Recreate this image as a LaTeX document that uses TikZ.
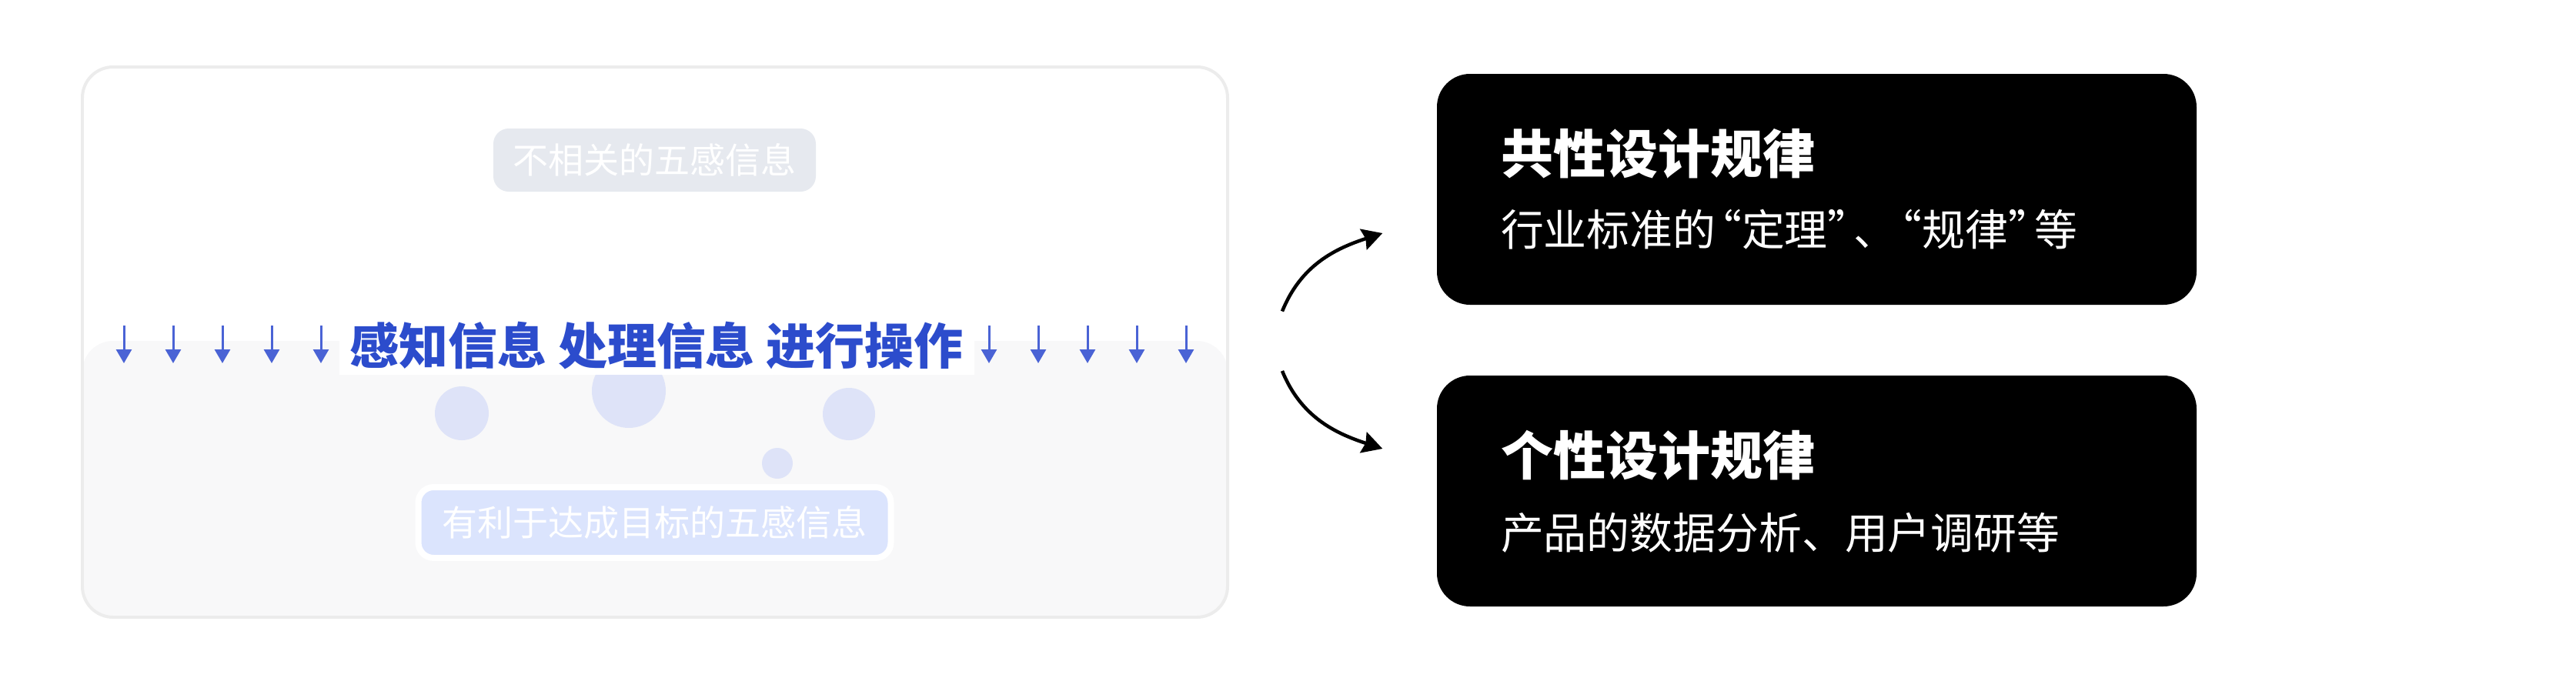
\documentclass[tikz,border=0pt]{standalone}
\usepackage{fontspec}
\usepackage{tikz}
\usetikzlibrary{arrows.meta, positioning}
\newfontfamily\cjk{Noto Sans CJK SC}
\definecolor{panelline}{HTML}{ECECEC}
\definecolor{panelgray}{HTML}{F8F8F9}
\definecolor{chipgray}{HTML}{E6E9EF}
\definecolor{chipblue}{HTML}{DBE4FD}
\definecolor{bubble}{HTML}{DEE3F8}
\definecolor{textblue}{HTML}{2C4CCC}
\definecolor{arrowblue}{HTML}{4A63D5}
% narrow curly quotes
\newcommand{\openq}{\makebox[0.6em][r]{“}}
\newcommand{\closeq}{\makebox[0.6em][l]{”}}
\tikzset{
	panel/.style={rectangle, draw=panelline, line width=0.04cm, fill=white, rounded corners=0.4cm, minimum width=14.88cm, minimum height=7.15cm, inner sep=0pt},
	chip/.style={rectangle, rounded corners=0.2cm, text=white, inner sep=0pt, font=\cjk\fontsize{13.1pt}{15pt}\selectfont},
	bubble/.style={circle, fill=bubble, inner sep=0pt},
	mainline/.style={rectangle, fill=white, text=textblue, inner sep=0pt, minimum height=0.76cm, font=\cjk\bfseries\fontsize{18.2pt}{20pt}\selectfont},
	fall/.style={-{Triangle[length=0.18cm, width=0.2cm]}, line width=0.03cm, arrowblue},
	rulebox/.style={rectangle, fill=black, rounded corners=0.43cm, minimum width=9.87cm, minimum height=3cm, inner sep=0pt},
	ruletitle/.style={text=white, inner sep=0pt, font=\cjk\bfseries\fontsize{19.35pt}{22pt}\selectfont},
	rulenote/.style={text=white, inner sep=0pt, font=\cjk\fontsize{15.9pt}{18pt}\selectfont},
	fork/.style={-{Stealth[length=0.26cm, width=0.28cm, inset=0.03cm]}, line width=0.045cm}
}
\begin{document}
\begin{tikzpicture}
	\useasboundingbox (0,0) rectangle (33.47,-8.80);
	
	% Left panel, white above and gray below
	\node[panel, path picture={\fill[panelgray] (path picture bounding box.south west) rectangle ([yshift=3.59cm]path picture bounding box.south east);}] (panel) at (8.51,-4.445) {};
	
	% Info chips
	\node[chip, fill=chipgray, minimum width=4.19cm, minimum height=0.82cm] (noise) at (8.505,-2.08) {不相关的五感信息};
	\node[chip, fill=chipblue, draw=white, line width=0.08cm, minimum width=6.14cm, minimum height=0.92cm] (useful) at (8.505,-6.79) {有利于达成目标的五感信息};
	
	% Bubbles
	\node[bubble, minimum size=0.70cm] (bubA) at (6.00,-5.37) {};
	\node[bubble, minimum size=0.96cm] (bubB) at (8.17,-5.08) {};
	\node[bubble, minimum size=0.68cm] (bubC) at (11.03,-5.38) {};
	\node[bubble, minimum size=0.40cm] (bubD) at (10.10,-6.02) {};
	
	% Main line of text
	\node[mainline, minimum width=8.25cm] (steps) at (8.53,-4.49) {感知信息 处理信息 进行操作};
	
	% Falling arrows
	\foreach \x [count=\i] in {1.61,2.25,2.89,3.53,4.17,12.85,13.49,14.13,14.77,15.41} {
		\coordinate (top\i) at (\x,-4.23);
		\coordinate (bot\i) at (\x,-4.72);
		\draw[fall] (top\i) -- (bot\i);
	}
	
	% Rule boxes
	\node[rulebox] (common) at (23.605,-2.46) {};
	\node[rulebox] (own) at (23.605,-6.38) {};
	
	\node[ruletitle, anchor=west] (commonT) at ([xshift=0.83cm, yshift=0.46cm]common.west) {共性设计规律};
	\node[rulenote, anchor=west] (commonN) at ([xshift=0.83cm, yshift=-0.52cm]common.west) {行业标准的\openq 定理\closeq 、\openq 规律\closeq 等};
	\node[ruletitle, anchor=west] (ownT) at ([xshift=0.83cm, yshift=0.46cm]own.west) {个性设计规律};
	\node[rulenote, anchor=west] (ownN) at ([xshift=0.83cm, yshift=-0.54cm]own.west) {产品的数据分析、用户调研等};
	
	% Fork arrows
	\coordinate (forkUp) at ([xshift=0.69cm, yshift=0.40cm]panel.east);
	\coordinate (forkDown) at ([xshift=0.69cm, yshift=-0.375cm]panel.east);
	\coordinate (upEnd) at ([xshift=-0.70cm, yshift=-0.57cm]common.west);
	\coordinate (downEnd) at ([xshift=-0.70cm, yshift=0.55cm]own.west);
	\draw[fork] (forkUp) to[out=68, in=198] (upEnd);
	\draw[fork] (forkDown) to[out=-68, in=162] (downEnd);
	
\end{tikzpicture}
\end{document}
